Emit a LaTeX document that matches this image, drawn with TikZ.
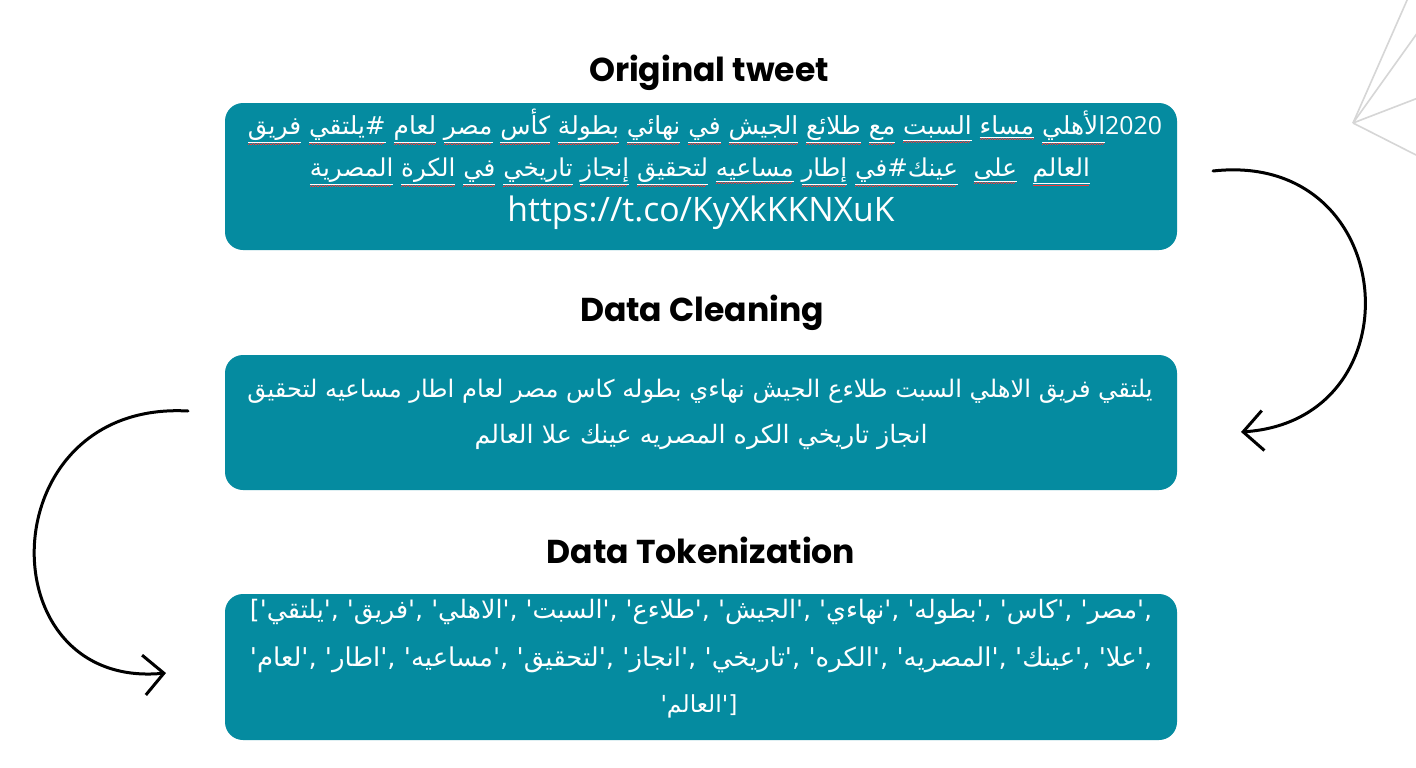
\documentclass[tikz,border=0pt]{standalone}
\usepackage{fontspec}
\usepackage{graphicx}
\usetikzlibrary{arrows.meta}
\setmainfont{Open Sans}
\newfontfamily\titlefont{Poppins}
\newfontfamily\urlfont{Open Sans}
\newfontfamily\arabicfont[Script=Arabic,Ligatures=TeXOff]{DejaVu Sans}
\newfontfamily\punctfont[Ligatures=TeXOff]{DejaVu Sans}
\TeXXeTstate=1
\definecolor{boxteal}{HTML}{058BA0}
\definecolor{decogray}{HTML}{D6D6D6}
\definecolor{spellred}{HTML}{F03A3A}
\newdimen\pxu \pxu=0.75pt
\newsavebox\uwbox
% underlined word with spell-check squiggle
\newcommand\uw[1]{\sbox\uwbox{#1}\vtop{\copy\uwbox\kern0.9pt\hrule height0.45pt\kern0.3pt\hbox to\wd\uwbox{\color{spellred}\leaders\hbox to 1.6pt{\vrule width0.8pt height0.6pt\raise0.55pt\hbox{\vrule width0.8pt height0.6pt}}\hfill}}}
% token drawn left to right: prefix, word, suffix
\newcommand\tkx[3]{\hbox{\hbox{\punctfont #1}\hbox{#2}\hbox{\punctfont #3}}}
\newcommand\hashmark{\hbox{\punctfont\#}}
% tweet words
\newcommand\twA{الأهلي}
\newcommand\twB{مساء}
\newcommand\twC{السبت}
\newcommand\twD{مع}
\newcommand\twE{طلائع}
\newcommand\twF{الجيش}
\newcommand\twG{في}
\newcommand\twH{نهائي}
\newcommand\twI{بطولة}
\newcommand\twJ{كأس}
\newcommand\twK{مصر}
\newcommand\twL{لعام}
\newcommand\twM{يلتقي}
\newcommand\twN{فريق}
\newcommand\twO{العالم}
\newcommand\twP{على}
\newcommand\twQ{عينك}
\newcommand\twS{إطار}
\newcommand\twT{مساعيه}
\newcommand\twU{لتحقيق}
\newcommand\twV{إنجاز}
\newcommand\twW{تاريخي}
\newcommand\twX{الكرة}
\newcommand\twY{المصرية}
% token words
\newcommand\tkA{يلتقي}
\newcommand\tkB{فريق}
\newcommand\tkC{الاهلي}
\newcommand\tkD{السبت}
\newcommand\tkE{طلاءع}
\newcommand\tkF{الجيش}
\newcommand\tkG{نهاءي}
\newcommand\tkH{بطوله}
\newcommand\tkI{كاس}
\newcommand\tkJ{مصر}
\newcommand\tkK{لعام}
\newcommand\tkL{اطار}
\newcommand\tkM{مساعيه}
\newcommand\tkN{لتحقيق}
\newcommand\tkO{انجاز}
\newcommand\tkP{تاريخي}
\newcommand\tkQ{الكره}
\newcommand\tkR{المصريه}
\newcommand\tkS{عينك}
\newcommand\tkT{علا}
\newcommand\tkU{العالم}
\newcommand\arline[2]{\resizebox{#1\pxu}{!}{\color{white}\arabicfont\fontsize{16}{20}\selectfont #2}}
\newcommand\latline[2]{\resizebox{#1\pxu}{!}{\color{white}\urlfont\fontsize{20}{24}\selectfont #2}}
\tikzset{
  box/.style={fill=boxteal, draw=none, rounded corners=13.5pt, minimum width=714pt, inner sep=0pt},
  title/.style={font=\titlefont\bfseries\fontsize{24.8}{28}\selectfont, text=black, inner sep=0pt},
  txt/.style={text=white, inner sep=0pt},
  flow/.style={line width=2.25pt, line cap=round, line join=round, -{Straight Barb[length=15pt,width=30pt]}},
  deco/.style={decogray, line width=1.2pt}
}
\begin{document}
\begin{tikzpicture}[x=0.75pt,y=-0.75pt]
\useasboundingbox (0,0) rectangle (1416,767);
\fill[white] (0,0) rectangle (1416,767);

% decorative lines top right
\coordinate (dv) at (1353,123);
\draw[deco] (dv) -- (1408,-2);
\draw[deco] (dv) -- (1418,32);
\draw[deco] (dv) -- (1418,98);
\draw[deco] (dv) -- (1418,156);

% titles
\node[title] (t1) at (709,73) {Original tweet};
\node[title] (t2) at (702,313) {Data Cleaning};
\node[title] (t3) at (701,550) {Data Tokenization};

% boxes
\node[box, minimum height=110.25pt] (b1) at (701,176.5) {};
\node[box, minimum height=101.25pt] (b2) at (701,422.5) {};
\node[box, minimum height=109.5pt] (b3) at (701,667) {};

% tweet text (words written in visual order, left to right)
\node[txt] (w1) at (705,127) {\arline{914}{\uw{\twN} \uw{\hbox{\twM}\hashmark} \uw{\twL} \uw{\twK} \uw{\twJ} \uw{\twI} \uw{\twH} \uw{\twG} \uw{\twF} \uw{\twE} \uw{\twD} \uw{\twC} \uw{\twB} \uw{\twA}\hbox{\urlfont 2020}}};
\node[txt] (w2) at (700,172) {\arline{780}{\uw{\twY} \uw{\twX} \uw{\twG} \uw{\twW} \uw{\twV} \uw{\twU} \uw{\twT} \uw{\twS} \uw{\hbox{\twG}\hashmark\hbox{\twQ}}~~\uw{\twP}~~\uw{\twO}}};
\node[txt] (w3) at (701,213) {\latline{387}{https://t.co/KyXkKKNXuK}};

% cleaned text
\node[txt] (c1) at (700,391) {\arline{905}{\beginR يلتقي فريق الاهلي السبت طلاءع الجيش نهاءي بطوله كاس مصر لعام اطار مساعيه لتحقيق\endR}};
\node[txt] (c2) at (701,437) {\arline{453}{\beginR انجاز تاريخي الكره المصريه عينك علا العالم\endR}};

% tokens (list printed left to right)
\node[txt] (k1) at (701,612) {\arline{902}{\tkx{['}{\tkA}{',} \tkx{'}{\tkB}{',} \tkx{'}{\tkC}{',} \tkx{'}{\tkD}{',} \tkx{'}{\tkE}{',} \tkx{'}{\tkF}{',} \tkx{'}{\tkG}{',} \tkx{'}{\tkH}{',} \tkx{'}{\tkI}{',} \tkx{'}{\tkJ}{',}}};
\node[txt] (k2) at (701,660) {\arline{902}{\tkx{'}{\tkK}{',} \tkx{'}{\tkL}{',} \tkx{'}{\tkM}{',} \tkx{'}{\tkN}{',} \tkx{'}{\tkO}{',} \tkx{'}{\tkP}{',} \tkx{'}{\tkQ}{',} \tkx{'}{\tkR}{',} \tkx{'}{\tkS}{',} \tkx{'}{\tkT}{',}}};
\node[txt] (k3) at (699,706) {\arline{77}{\tkx{'}{\tkU}{']}}};

% arrows
\coordinate (r1) at (1213,171);
\coordinate (r2) at (1241,432);
\draw[flow] (r1) .. controls (1400,150) and (1420,420) .. (r2);
\coordinate (l1) at (188,411);
\coordinate (l2) at (166,673);
\draw[flow] (l1) .. controls (-10,400) and (-15,690) .. (l2);
\end{tikzpicture}
\end{document}
